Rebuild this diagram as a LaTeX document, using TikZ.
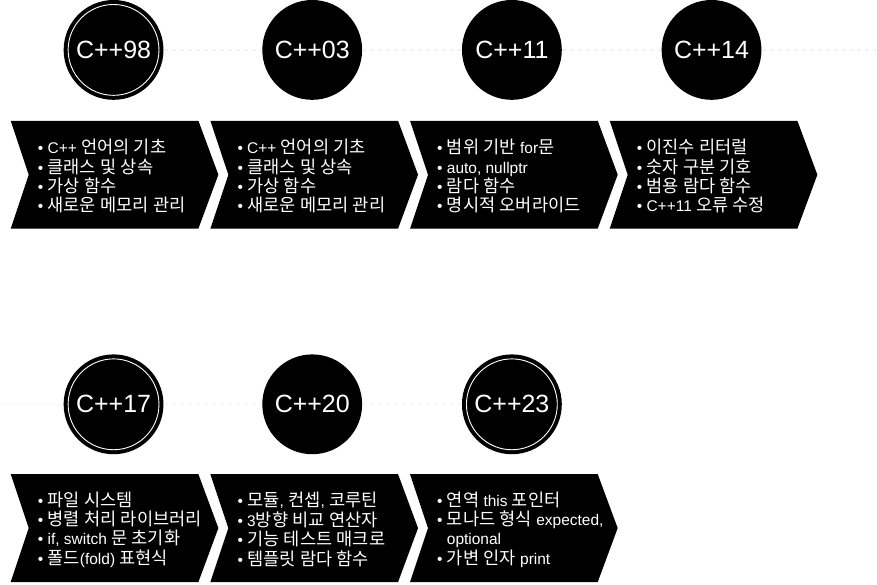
\documentclass[tikz,border=0pt]{standalone}
\usepackage{fontspec}
\setmainfont{Liberation Sans}
\font\krraw="Noto Sans CJK KR" at 17.6pt
\font\laraw="Liberation Sans" at 15.5pt
\XeTeXinterchartokenstate=1
\newXeTeXintercharclass\hangulclass
\count255="AC00
\loop
  \XeTeXcharclass\count255=\hangulclass
  \ifnum\count255<"D7A3 \advance\count255 by 1 \repeat
\XeTeXinterchartoks 0 \hangulclass = {\krraw}
\XeTeXinterchartoks 4095 \hangulclass = {\krraw}
\XeTeXinterchartoks \hangulclass 0 = {\laraw}
\XeTeXinterchartoks \hangulclass 4095 = {\laraw}
\usepackage{tikz}
\tikzset{
  yearc/.style={circle, fill=black, minimum size=100pt, inner sep=0pt, text=white,
    font=\fontsize{25}{30}\selectfont},
  ringed/.style={path picture={\draw[white, line width=0.9pt]
    (path picture bounding box.center) circle[radius=45.5pt];}},
  items/.style={anchor=west, align=left, inner sep=0pt, text=white,
    font=\fontsize{15.5}{19.5}\selectfont\laraw},
  tline/.style={draw=black!5, dashed, dash pattern=on 4pt off 4pt, line width=1.5pt}
}

\begin{document}
\begin{tikzpicture}[x=1pt, y=-1pt]
\fill[white] (0,0) rectangle (877,586);
\foreach \cx/\cy in {10/175, 210/175, 410/175, 610/175, 10/529, 210/529, 410/529}
  \fill[black] (\cx,\cy-54) -- (\cx+188,\cy-54) -- (\cx+208,\cy) -- (\cx+188,\cy+54)
    -- (\cx,\cy+54) -- (\cx+18,\cy) -- cycle;
\node[yearc, ringed] (c98) at (113,50) {C++98};
\node[yearc] (c03) at (312,50) {C++03};
\node[yearc] (c11) at (512,50) {C++11};
\node[yearc] (c14) at (712,50) {C++14};
\node[yearc, ringed] (c17) at (113,405) {C++17};
\node[yearc] (c20) at (312,405) {C++20};
\node[yearc, ringed] (c23) at (512,405) {C++23};
\coordinate (rowend) at (877,50);
\coordinate (rowstart) at (0,405);
\draw[tline] (c98) -- (c03); \draw[tline] (c03) -- (c11); \draw[tline] (c11) -- (c14);
\draw[tline] (c14) -- (rowend);
\draw[tline] (rowstart) -- (c17); \draw[tline] (c17) -- (c20); \draw[tline] (c20) -- (c23);
\node[items] (t98) at (37,176.5) {• C++ 언어의 기초\\• 클래스 및 상속\\• 가상 함수\\• 새로운 메모리 관리};
\node[items] (t03) at (237,176.5) {• C++ 언어의 기초\\• 클래스 및 상속\\• 가상 함수\\• 새로운 메모리 관리};
\node[items] (t11) at (437,176.5) {• 범위 기반 for문\\• auto, nullptr\\• 람다 함수\\• 명시적 오버라이드};
\node[items] (t14) at (637,176.5) {• 이진수 리터럴\\• 숫자 구분 기호\\• 범용 람다 함수\\• C++11 오류 수정};
\node[items] (t17) at (37,530.5) {• 파일 시스템\\• 병렬 처리 라이브러리\\• if, switch 문 초기화\\• 폴드(fold) 표현식};
\node[items] (t20) at (237,530.5) {• 모듈, 컨셉, 코루틴\\• 3방향 비교 연산자\\• 기능 테스트 매크로\\• 템플릿 람다 함수};
\node[items] (t23) at (437,530.5) {• 연역 this 포인터\\• 모나드 형식 expected,\\\phantom{• }optional\\• 가변 인자 print};
\end{tikzpicture}
\end{document}
